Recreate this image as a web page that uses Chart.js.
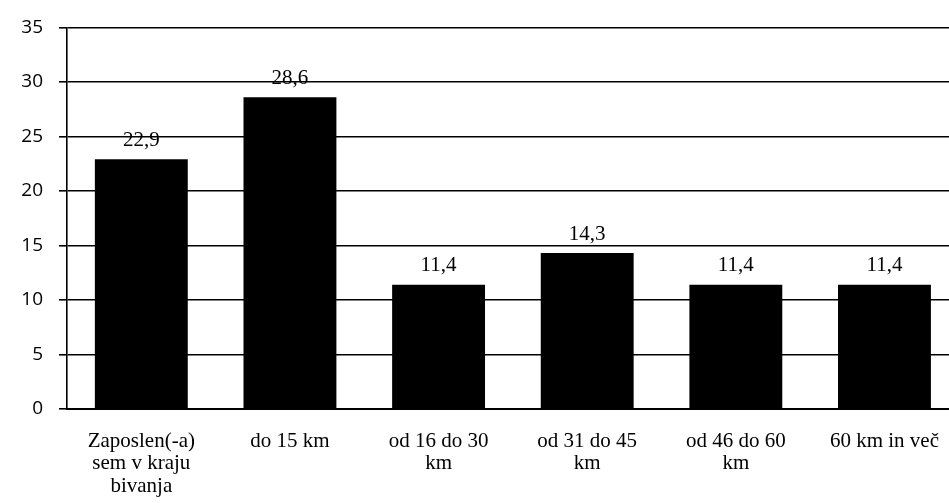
<!DOCTYPE html>
<html>
<head>
<meta charset="utf-8">
<script src="https://cdn.jsdelivr.net/npm/chart.js@4/dist/chart.umd.min.js"></script>
<style>
  body { margin: 0; background: #fff; overflow: hidden; }
  #okvir { width: 960px; height: 503px; }
</style>
</head>
<body>
<div id="okvir"><canvas id="graf" width="960" height="503"></canvas></div>
<script>
// Podatki
const kategorije = [
  ["Zaposlen(-a)", "sem v kraju", "bivanja"],
  "do 15 km",
  ["od 16 do 30", "km"],
  ["od 31 do 45", "km"],
  ["od 46 do 60", "km"],
  "60 km in več"
];
const odstotki = [22.9, 28.6, 11.4, 14.3, 11.4, 11.4];
const yMin = 0, yMax = 35, yKorak = 5;

// Oznake vrednosti nad stolpci
const oznakeVrednosti = {
  id: "oznakeVrednosti",
  afterDatasetsDraw(chart) {
    const ctx = chart.ctx;
    ctx.save();
    ctx.font = '21px "Liberation Serif", "Times New Roman", serif';
    ctx.fillStyle = "#000";
    ctx.textAlign = "center";
    ctx.textBaseline = "middle";
    chart.getDatasetMeta(0).data.forEach((bar, i) => {
      ctx.fillText(String(odstotki[i]).replace(".", ","), bar.x, bar.y - 19);
    });
    ctx.restore();
  }
};

new Chart(document.getElementById("graf"), {
  type: "bar",
  data: {
    labels: kategorije,
    datasets: [{
      data: odstotki,
      backgroundColor: "#000",
      borderWidth: 0,
      categoryPercentage: 1,
      barPercentage: 0.625
    }]
  },
  options: {
    responsive: false,
    animation: false,
    layout: { padding: { top: 23, right: 0, left: 0, bottom: 0 } },
    plugins: { legend: { display: false }, tooltip: { enabled: false } },
    scales: {
      x: {
        grid: { display: false, drawTicks: false },
        border: { display: true, color: "#000", width: 2 },
        ticks: {
          color: "#000",
          padding: 21,
          maxRotation: 0,
          autoSkip: false,
          font: { family: '"Liberation Serif", "Times New Roman", serif', size: 21, lineHeight: 1.07 }
        },
        afterFit(s) { s.height = 94; }
      },
      y: {
        min: yMin,
        max: yMax,
        grid: { color: "#000", lineWidth: 1.6, tickLength: 8, drawTicks: true },
        border: { display: true, color: "#000", width: 1.6 },
        ticks: {
          stepSize: yKorak,
          color: "#000",
          padding: 16,
          font: { family: '"Open Sans", sans-serif', size: 19 }
        },
        afterFit(s) { s.width = 67; }
      }
    }
  },
  plugins: [oznakeVrednosti]
});
</script>
</body>
</html>
